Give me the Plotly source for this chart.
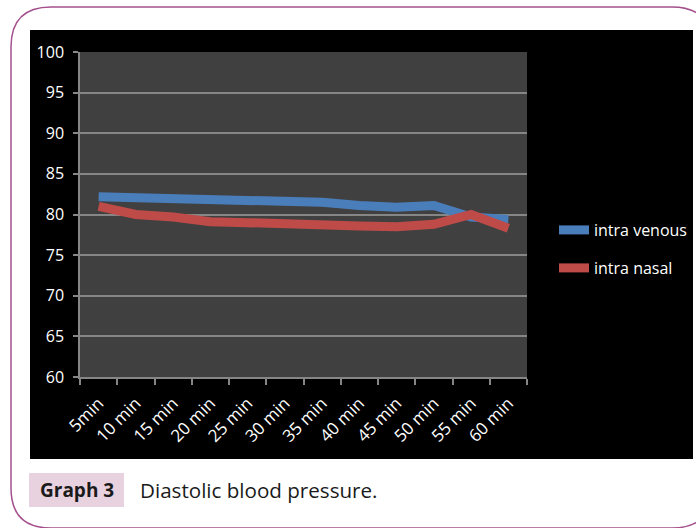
import plotly.graph_objects as go

categories = ["5min", "10 min", "15 min", "20 min", "25 min", "30 min",
              "35 min", "40 min", "45 min", "50 min", "55 min", "60 min"]
intra_venous = [82.2, 82.1, 82.0, 82.0, 81.7, 81.6, 81.5, 81.1, 80.9, 81.1, 79.7, 79.4]
intra_nasal = [81.0, 80.0, 79.7, 79.1, 79.0, 78.8, 78.7, 78.6, 78.5, 78.8, 80.0, 78.3]
y_ticks = [60, 65, 70, 75, 80, 85, 90, 95, 100]

W, H = 696, 528
PL, PR, PT, PB = 80, 527, 52, 377  # plot area in pixels


def px(x):
    return (x - PL) / (PR - PL)


def py(y):
    return (PB - y) / (PB - PT)


FONT = "Open Sans"

fig = go.Figure()
fig.add_trace(go.Scatter(x=categories, y=intra_venous, mode="lines", name="intra venous",
                         line=dict(color="#4a7ebb", width=9), legend="legend", showlegend=True))
fig.add_trace(go.Scatter(x=categories, y=intra_nasal, mode="lines", name="intra nasal",
                         line=dict(color="#be4b48", width=9), legend="legend2", showlegend=True))

# rounded border path
L, R, T, B, r = 11, 712, 7, 528, 40
path = (f"M {px(L)} {py(T + r)} Q {px(L)} {py(T)} {px(L + r)} {py(T)} "
        f"L {px(R - r)} {py(T)} Q {px(R)} {py(T)} {px(R)} {py(T + r)} "
        f"L {px(R)} {py(B - r)} Q {px(R)} {py(B)} {px(R - r)} {py(B)} "
        f"L {px(L + r)} {py(B)} Q {px(L)} {py(B)} {px(L)} {py(B - r)} Z")

shapes = [
    dict(type="path", xref="paper", yref="paper", path=path,
         line=dict(color="#a5508c", width=1.5), fillcolor="rgba(0,0,0,0)", layer="below"),
    dict(type="rect", xref="paper", yref="paper", x0=px(30), x1=px(693), y0=py(30), y1=py(459),
         fillcolor="#000000", line=dict(width=0), layer="below"),
    dict(type="rect", xref="paper", yref="paper", x0=px(PL), x1=px(PR), y0=py(PT), y1=py(PB),
         fillcolor="#404040", line=dict(width=0), layer="below"),
    dict(type="rect", xref="paper", yref="paper", x0=px(29), x1=px(124), y0=py(473), y1=py(507),
         fillcolor="#e8d2df", line=dict(width=0), layer="below"),
]

annotations = [
    dict(xref="paper", yref="paper", x=px(76.5), y=py(490), text="<b>Graph 3</b>",
         showarrow=False, xanchor="center", yanchor="middle",
         font=dict(family=FONT, size=19, color="#1a1a1a")),
    dict(xref="paper", yref="paper", x=px(138), y=py(490), text="Diastolic blood pressure.",
         showarrow=False, xanchor="left", yanchor="middle",
         font=dict(family=FONT, size=20.6, color="#1a1a1a")),
]

fig.update_layout(
    width=W, height=H,
    margin=dict(l=PL, r=W - PR, t=PT, b=H - PB, pad=0, autoexpand=False),
    paper_bgcolor="white",
    plot_bgcolor="rgba(0,0,0,0)",
    showlegend=True,
    shapes=shapes,
    annotations=annotations,
    legend=dict(xref="container", yref="container", x=554 / W, y=1 - 230 / H,
                xanchor="left", yanchor="middle",
                font=dict(family=FONT, size=16, color="white"), bgcolor="rgba(0,0,0,0)"),
    legend2=dict(xref="container", yref="container", x=554 / W, y=1 - 268 / H,
                 xanchor="left", yanchor="middle",
                 font=dict(family=FONT, size=16, color="white"), bgcolor="rgba(0,0,0,0)"),
    xaxis=dict(
        type="category", range=[-0.5, 11.5], tickson="boundaries",
        ticks="outside", ticklen=6, tickwidth=1.5, tickcolor="#868686",
        showline=True, linecolor="#868686", linewidth=1.5, showgrid=False,
        tickangle=-45, tickfont=dict(family=FONT, size=17, color="white"),
        ticklabelstandoff=8, fixedrange=True, automargin=False,
    ),
    yaxis=dict(
        range=[60, 100], tickvals=y_ticks, ticks="outside", ticklen=5, tickwidth=1.5,
        tickcolor="#868686", showline=True, linecolor="#868686", linewidth=1.5,
        showgrid=True, gridcolor="#868686", gridwidth=1.5, zeroline=False,
        tickfont=dict(family=FONT, size=16, color="white"), ticklabelstandoff=6,
        fixedrange=True, automargin=False,
    ),
)

fig.write_html("out.html")
